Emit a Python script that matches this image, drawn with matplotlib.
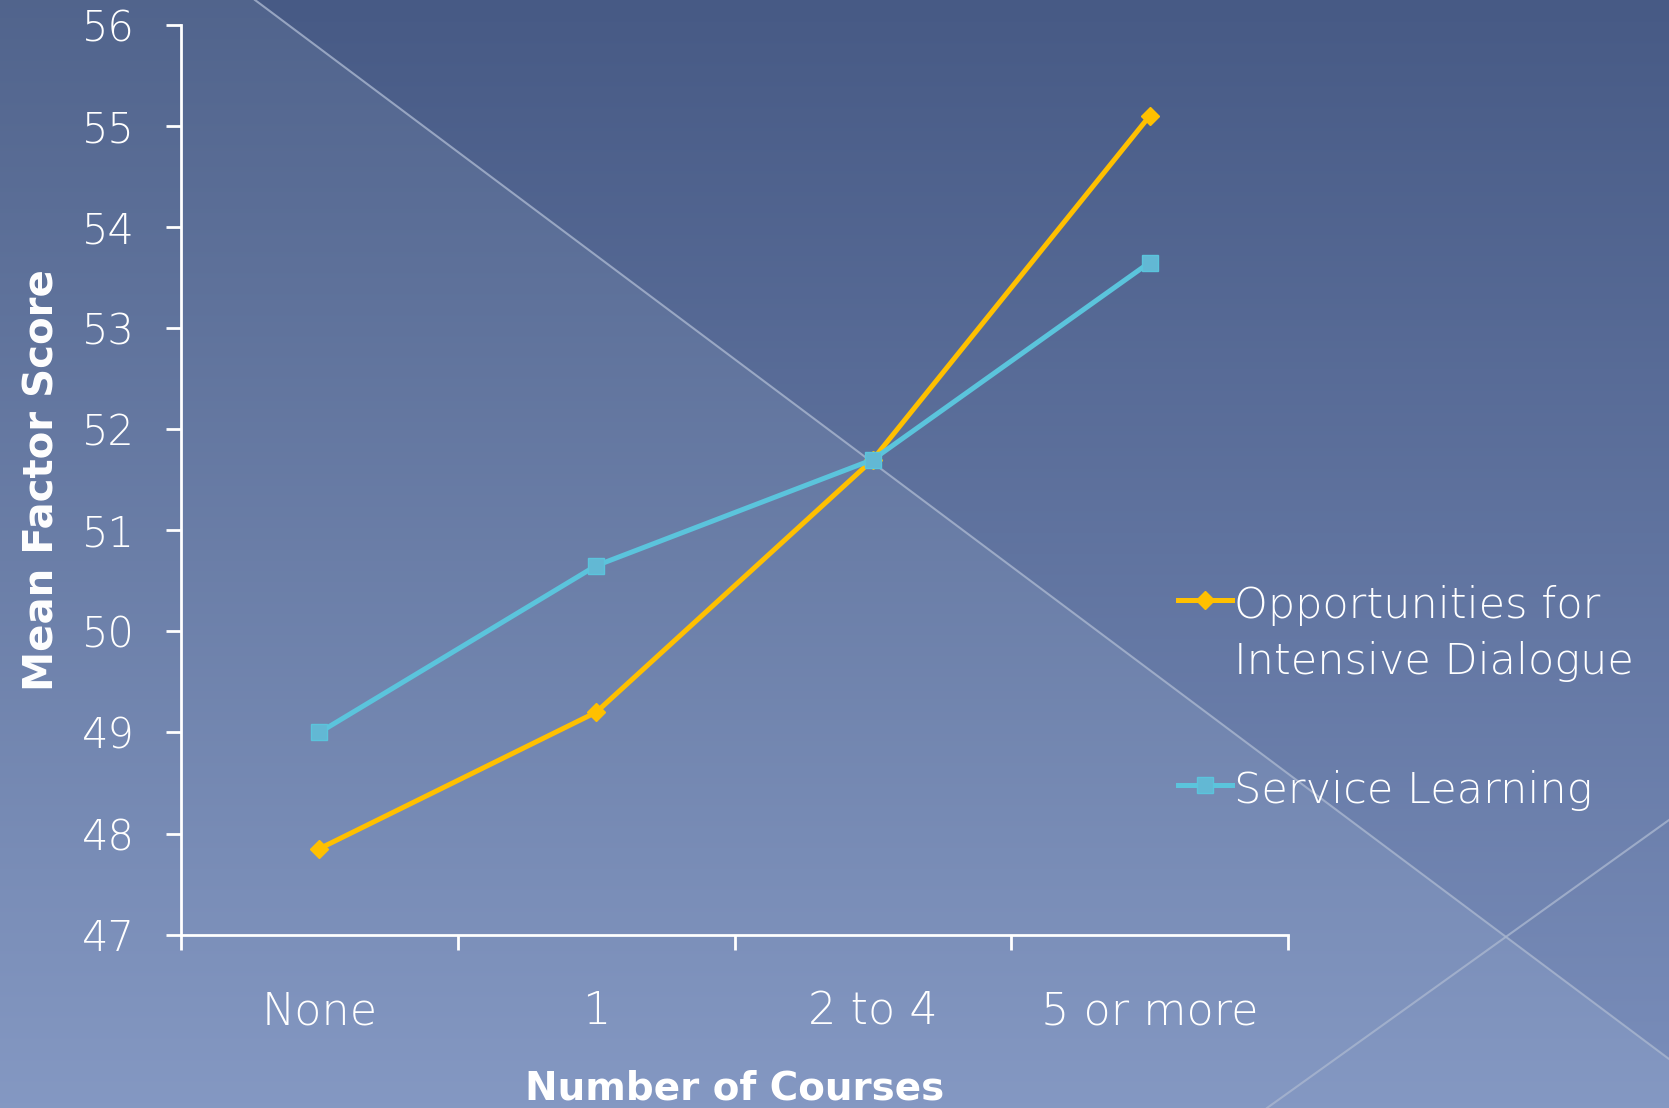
import numpy as np
import matplotlib
matplotlib.use("Agg")
import matplotlib.pyplot as plt

# data
categories = ['None', '1', '2 to 4', '5 or more']
dialogue = [47.85, 49.2, 51.7, 55.1]
service = [49.0, 50.65, 51.7, 53.65]
y_ticks = [47, 48, 49, 50, 51, 52, 53, 54, 55, 56]

plt.rcParams['font.family'] = ['DejaVu Sans']

W, H = 1669, 1108
fig = plt.figure(figsize=(W / 100, H / 100), dpi=100)

# background: vertical gradient, lighter triangle below the diagonal
bg = fig.add_axes([0, 0, 1, 1], zorder=-10)
yy, xx = np.mgrid[0:H, 0:W]
t = yy / (H - 1)
top = np.array([0x47, 0x5a, 0x85]) / 255
bot = np.array([0x7a, 0x8e, 0xbb]) / 255
img = top[None, None, :] * (1 - t[..., None]) + bot[None, None, :] * t[..., None]
side = (yy * 1414 - (xx - 255) * 1059) > 0
img[side] = img[side] + np.array([0.04, 0.04, 0.03])
img = np.clip(img, 0, 1)
bg.imshow(img, extent=[0, W, H, 0], aspect='auto')
bg.plot([255, 1669], [0, 1059], color='#a9b6cf', lw=1.5, alpha=0.8)
bg.plot([1267, 1669], [1108, 820], color='#a9b6cf', lw=1.5, alpha=0.8)
bg.set_xlim(0, W)
bg.set_ylim(H, 0)
bg.axis('off')

ax = fig.add_axes([181 / W, 1 - 934.6 / H, (1288 - 181) / W, (934.6 - 25) / H])
ax.patch.set_alpha(0)
x = np.arange(len(categories))
ax.plot(x, dialogue, color='#ffc000', lw=3.6, marker='D', ms=9.5,
        label='Opportunities for\nIntensive Dialogue', clip_on=False)
ax.plot(x, service, color='#5bc4dc', lw=3.6, marker='s', ms=11,
        mfc='#62b8d4', label='Service Learning', clip_on=False)

ax.set_xlim(-0.5, 3.5)
ax.set_ylim(47, 56)
ax.set_yticks(y_ticks)
ax.set_xticks(np.arange(-0.5, 4, 1))
ax.set_xticklabels([])
ax.set_xticks(x, minor=True)
ax.set_xticklabels(categories, minor=True, fontweight='light')
for lab in ax.get_yticklabels():
    lab.set_fontweight('light')
for s in ['top', 'right']:
    ax.spines[s].set_visible(False)
for s in ['left', 'bottom']:
    ax.spines[s].set_color('white')
    ax.spines[s].set_linewidth(2)
ax.tick_params(axis='both', which='major', colors='white', width=2, length=11,
               labelsize=30)
ax.tick_params(axis='x', which='minor', length=0, labelsize=32, colors='white',
               pad=40)
ax.tick_params(axis='y', pad=22)

ax.set_ylabel('Mean Factor Score', color='white', fontsize=29,
              fontweight='bold', labelpad=14)
ax.set_xlabel('Number of Courses', color='white', fontsize=28,
              fontweight='bold', labelpad=26)

leg = ax.legend(loc='upper left', bbox_to_anchor=((1176 - 37) / W, 1 - 546 / H),
                bbox_transform=fig.transFigure, frameon=False,
                prop={'size': 31, 'weight': 'light'},
                handlelength=1.25, handletextpad=0.05, labelspacing=2.05,
                labelcolor='white')
for txt in leg.get_texts():
    txt.set_linespacing(1.45)
# put the legend line next to the first line of a two-line label
for col in leg._legend_handle_box.get_children():
    for item in col.get_children():
        item.align = 'top'

fig.savefig('out.png', dpi=100)
